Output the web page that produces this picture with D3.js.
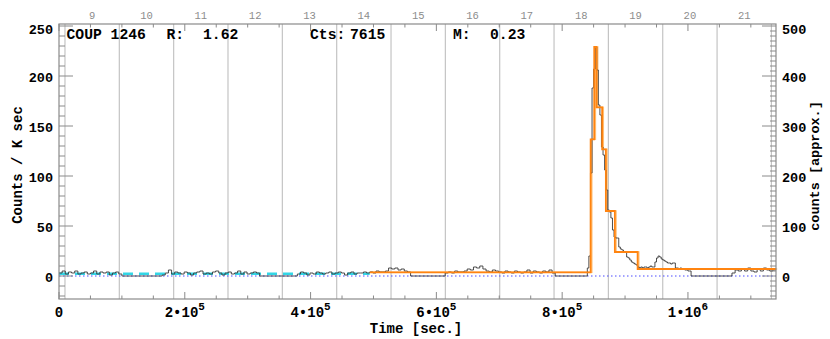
<!DOCTYPE html>
<html>
<head>
<meta charset="utf-8">
<script src="https://cdn.jsdelivr.net/npm/d3@7/dist/d3.min.js"></script>
<style>
body { margin: 0; background: #fff; }
text { font-family: "Liberation Mono", "DejaVu Sans Mono", monospace; font-weight: bold; }
</style>
</head>
<body>
<div id="chart-area"></div>
<script>
// light curve: start time of each exposure, bin width, binned rates (counts / ks)
var segStarts = [0, 164000, 379000, 614000, 840000, 1070000]
var segBinWidths = [5000, 5000, 5000, 5000, 2500, 5000]
var seg1Rates = [3,5,2,4,3,5,2,3,4,2,3,5,2,4,3,4,1,3,4,2]
var seg2Rates = [1,3,6,2,4,3,2,4,3,1,3,4,5,2,3,2,4,5,3,1,3,4,2,3,5,2,4,2,3,4,3]
var seg3Rates = [2,4,3,1,3,2,4,3,2,3,4,2,3,4,3,1,3,4,2,3,3,4,3,4,3,5,4,4,5,8,7,8,6,7,5,4]
var seg4Rates = [3,4,3,5,4,4,5,7,6,9,8,10,7,5,4,6,5,4,3,5,4,3,5,4,3,4,6,3,5,4,3,5,4,6,3]
var seg5Rates = [8,20,103,188,207,229,206,171,161,129,121,106,86,66,64,58,46,39,38,38,
                 29,27,26,24,24,19,18,16,14,13,12,11,9,8,9,8,9,9,8,9,
                 10,9,9,14,18,20,19,17,16,15,14,13,13,12,13,13,8,8,7,8,
                 7,7,6,6,5,5]
var seg6Rates = [3,6,5,7,5,8,5,4,7,5,8,6,5,6]
var segRates = [seg1Rates, seg2Rates, seg3Rates, seg4Rates, seg5Rates, seg6Rates]

// Bayesian blocks: edges (sec) and levels (counts / ks); first block is the characteristic level
var blockEdges = [0, 494000, 845300, 851000, 854700, 863600, 869500, 883800, 920000, 1140000]
var blockLevels = [2.3, 3.7, 136.7, 229, 168.7, 126.7, 65, 24, 7]

var leftTicks = [0, 50, 100, 150, 200, 250]
var rightTicks = [0, 100, 200, 300, 400, 500]
var timeTicks = [0, 200000, 400000, 600000, 800000, 1000000]
var dayLabels = [9, 10, 11, 12, 13, 14, 15, 16, 17, 18, 19, 20, 21]

var sourceName = "COUP 1246"
var ratioR = "1.62"
var totalCounts = "7615"
var valueM = "0.23"

var tMax = 1140000
var dayAtZero = 8.39

var svgWidth = 830
var svgHeight = 339
var pLeft = 59, pRight = 776, pTop = 24, pBottom = 299

var svg = d3.select("#chart-area")
			.append("svg")
			.attr("width", svgWidth)
			.attr("height", svgHeight)

var x = d3.scaleLinear().domain([0, tMax]).range([pLeft, pRight])
var y = d3.scaleLinear().domain([-23, 252]).range([pBottom, pTop])
var yRight = d3.scaleLinear().domain([-46, 504]).range([pBottom, pTop])
var xDay = d3.scaleLinear().domain([dayAtZero, dayAtZero + tMax / 86400]).range([pLeft, pRight])

var axisCol = "#8a8a8a"

// day boundary grid lines
var gridDays = d3.range(8.5, 22, 1)
svg.selectAll(".grid").data(gridDays).enter()
	.append("line")
	.attr("x1", function(d){ return xDay(d) })
	.attr("x2", function(d){ return xDay(d) })
	.attr("y1", pTop).attr("y2", pBottom)
	.attr("stroke", "#c4c4c4")
	.attr("stroke-width", 1.2)

// zero level
svg.append("line")
	.attr("x1", pLeft).attr("x2", pRight)
	.attr("y1", y(0)).attr("y2", y(0))
	.attr("stroke", "#4a4aff")
	.attr("stroke-width", 1)
	.attr("stroke-dasharray", "1.5,2.5")

// build light curve steps, gaps drop to zero
var lcPoints = []
segStarts.forEach(function(s, k){
	var w = segBinWidths[k]
	segRates[k].forEach(function(r, i){
		lcPoints.push([s + i * w, r])
	})
	var end = s + segRates[k].length * w
	if (k < segStarts.length - 1) lcPoints.push([end, 0])
	else lcPoints.push([Math.min(end, tMax), segRates[k][segRates[k].length - 1]])
})

var stepLine = d3.line()
	.x(function(d){ return x(d[0]) })
	.y(function(d){ return y(d[1]) })
	.curve(d3.curveStepAfter)

// characteristic level (cyan dashed)
svg.append("path")
	.datum([[blockEdges[0], blockLevels[0]], [blockEdges[1], blockLevels[0]]])
	.attr("d", stepLine)
	.attr("fill", "none")
	.attr("stroke", "#33d6e6")
	.attr("stroke-width", 2.5)
	.attr("stroke-dasharray", "10,6")

// bayesian blocks after the first one
var blockPoints = []
for (var i = 1; i < blockLevels.length; i++) blockPoints.push([blockEdges[i], blockLevels[i]])
blockPoints.push([blockEdges[blockEdges.length - 1], blockLevels[blockLevels.length - 1]])

// pale edge of the thick orange line
svg.append("path")
	.datum(blockPoints)
	.attr("d", stepLine)
	.attr("transform", "translate(1.2,0)")
	.attr("fill", "none")
	.attr("stroke", "#ffc27a")
	.attr("stroke-width", 1.4)

svg.append("path")
	.datum(lcPoints)
	.attr("d", stepLine)
	.attr("fill", "none")
	.attr("stroke", "#3a3a3a")
	.attr("stroke-width", 0.9)

svg.append("path")
	.datum(blockPoints)
	.attr("d", stepLine)
	.attr("fill", "none")
	.attr("stroke", "#ff8410")
	.attr("stroke-width", 1.8)

// frame
svg.append("rect")
	.attr("x", pLeft).attr("y", pTop)
	.attr("width", pRight - pLeft).attr("height", pBottom - pTop)
	.attr("fill", "none")
	.attr("stroke", axisCol)
	.attr("stroke-width", 1.2)

// left ticks
var leftMinor = d3.range(-20, 251, 10)
svg.selectAll(".lt").data(leftMinor).enter()
	.append("line")
	.attr("x1", pLeft)
	.attr("x2", function(d){ return pLeft + (d % 50 == 0 ? 14 : 6) })
	.attr("y1", function(d){ return y(d) })
	.attr("y2", function(d){ return y(d) })
	.attr("stroke", axisCol)
var rightMinor = d3.range(-40, 501, 10)
svg.selectAll(".rt").data(rightMinor).enter()
	.append("line")
	.attr("x1", pRight)
	.attr("x2", function(d){ return pRight - (d % 100 == 0 ? 14 : 6) })
	.attr("y1", function(d){ return yRight(d) })
	.attr("y2", function(d){ return yRight(d) })
	.attr("stroke", axisCol)

// time ticks, bottom and top
var timeMinor = d3.range(0, tMax, 50000)
svg.selectAll(".bt").data(timeMinor).enter()
	.append("line")
	.attr("x1", function(d){ return x(d) })
	.attr("x2", function(d){ return x(d) })
	.attr("y1", pBottom)
	.attr("y2", function(d){ return pBottom - (d % 200000 == 0 ? 7 : 3.5) })
	.attr("stroke", axisCol)
svg.selectAll(".tt").data(timeMinor).enter()
	.append("line")
	.attr("x1", function(d){ return x(d) })
	.attr("x2", function(d){ return x(d) })
	.attr("y1", pTop)
	.attr("y2", function(d){ return pTop + (d % 200000 == 0 ? 7 : 3.5) })
	.attr("stroke", axisCol)

// tick labels
svg.selectAll(".ll").data(leftTicks).enter()
	.append("text")
	.attr("x", 53)
	.attr("y", function(d){ return Math.max(y(d) + 6, pTop + 9.8) })
	.attr("text-anchor", "end")
	.style("font-size", "13.5px")
	.text(function(d){ return d })
svg.selectAll(".rl").data(rightTicks).enter()
	.append("text")
	.attr("x", 782)
	.attr("y", function(d){ return Math.max(yRight(d) + 6, pTop + 9.8) })
	.attr("text-anchor", "start")
	.style("font-size", "13.5px")
	.text(function(d){ return d })

var tl = svg.selectAll(".bl").data(timeTicks).enter()
	.append("text")
	.attr("x", function(d){ return x(d) })
	.attr("y", 317)
	.attr("text-anchor", "middle")
	.style("font-size", "14px")
tl.each(function(d){
	var t = d3.select(this)
	if (d == 0) { t.text("0"); return }
	var e = Math.floor(Math.log10(d))
	var m = Math.round(d / Math.pow(10, e))
	t.append("tspan").text(m + "\u202210")
	t.append("tspan").attr("dy", -7).style("font-size", "11px").text(e)
})

svg.selectAll(".dl").data(dayLabels).enter()
	.append("text")
	.attr("x", function(d){ return xDay(d) })
	.attr("y", 19)
	.attr("text-anchor", "middle")
	.attr("fill", "#8c8c8c")
	.style("font-weight", "normal")
	.style("font-size", "10.5px")
	.text(function(d){ return d })

// axis titles
svg.append("text")
	.attr("x", 416).attr("y", 333)
	.attr("text-anchor", "middle")
	.style("font-size", "14px")
	.text("Time [sec.]")
svg.append("text")
	.attr("transform", "translate(22,165) rotate(-90)")
	.attr("text-anchor", "middle")
	.style("font-size", "14px")
	.text("Counts / K sec")
svg.append("text")
	.attr("transform", "translate(819,166) rotate(-90)")
	.attr("text-anchor", "middle")
	.style("font-size", "13.5px")
	.text("counts [approx.]")

// header
var header = [[66.5, sourceName], [166.5, "R:"], [203, ratioR], [310, "Cts:"], [350, totalCounts], [453, "M:"], [490, valueM]]
svg.selectAll(".hd").data(header).enter()
	.append("text")
	.attr("x", function(d){ return d[0] })
	.attr("y", 38.5)
	.style("font-size", "14.7px")
	.text(function(d){ return d[1] })
</script>
</body>
</html>
